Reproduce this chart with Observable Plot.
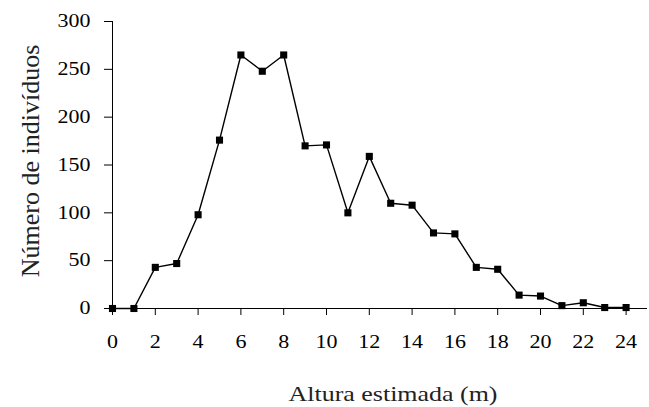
<!DOCTYPE html>
<html>
<head>
<meta charset="utf-8">
<script src="https://cdn.jsdelivr.net/npm/d3@7"></script>
<script src="https://cdn.jsdelivr.net/npm/@observablehq/plot@0.6"></script>
<style>
  html, body { margin: 0; padding: 0; background: #fff; }
  #chart svg { display: block; }
</style>
</head>
<body>
<div id="chart"></div>
<script>
const alturas = [0,1,2,3,4,5,6,7,8,9,10,11,12,13,14,15,16,17,18,19,20,21,22,23,24];
const individuos = [0,0,43,47,98,176,265,248,265,170,171,100,159,110,108,79,78,43,41,14,13,3,6,1,1];
const xTicks = [0,2,4,6,8,10,12,14,16,18,20,22,24];
const yTicks = [0,50,100,150,200,250,300];
const xTitle = "Altura estimada (m)";
const yTitle = "Número de indivíduos";

const data = alturas.map((a, i) => ({altura: a, n: individuos[i]}));

const chart = Plot.plot({
  width: 649,
  height: 407,
  marginLeft: 112,
  marginRight: 2,
  marginTop: 21,
  marginBottom: 99,
  style: {fontFamily: "'Liberation Serif', 'Times New Roman', serif", fontSize: "18px", color: "#000", background: "#fff"},
  x: {domain: [0, 25]},
  y: {domain: [0, 300]},
  marks: [
    Plot.axisX({ticks: xTicks, tickSize: 7, tickPadding: 20, tickFormat: d => String(d), label: null, fontSize: 18}),
    Plot.axisY({ticks: yTicks, tickSize: 8, tickPadding: 14, tickFormat: d => String(d), label: null, fontSize: 18}),
    Plot.ruleX([0], {y1: 0, y2: 300, stroke: "#000", strokeWidth: 1}),
    Plot.ruleY([0], {x1: 0, x2: 25, stroke: "#000", strokeWidth: 1}),
    Plot.line(data, {x: "altura", y: "n", stroke: "#000", strokeWidth: 1.4}),
    Plot.dot(data, {x: "altura", y: "n", symbol: "square", r: 4, fill: "#000", stroke: "none"}),
    Plot.text([xTitle], {text: d => d, frameAnchor: "bottom", lineAnchor: "middle", textAnchor: "middle", dx: 13, dy: 85, fontSize: 22, fill: "#222"}),
    Plot.text([yTitle], {text: d => d, frameAnchor: "left", lineAnchor: "middle", textAnchor: "middle", rotate: -90, dx: -82, dy: -4, fontSize: 26, fill: "#222"})
  ]
});
document.getElementById("chart").appendChild(chart);

// the reference's lettering is slightly wider than the plain font
chart.querySelectorAll('g[aria-label="x-axis tick label"] text, g[aria-label="y-axis tick label"] text').forEach(t => {
  const len = t.getComputedTextLength();
  t.setAttribute("textLength", (len * 1.22).toFixed(1));
  t.setAttribute("lengthAdjust", "spacingAndGlyphs");
});
chart.querySelectorAll('text').forEach(t => {
  if (t.textContent === xTitle) {
    t.setAttribute("textLength", "209");
    t.setAttribute("lengthAdjust", "spacingAndGlyphs");
  }
});
</script>
</body>
</html>
